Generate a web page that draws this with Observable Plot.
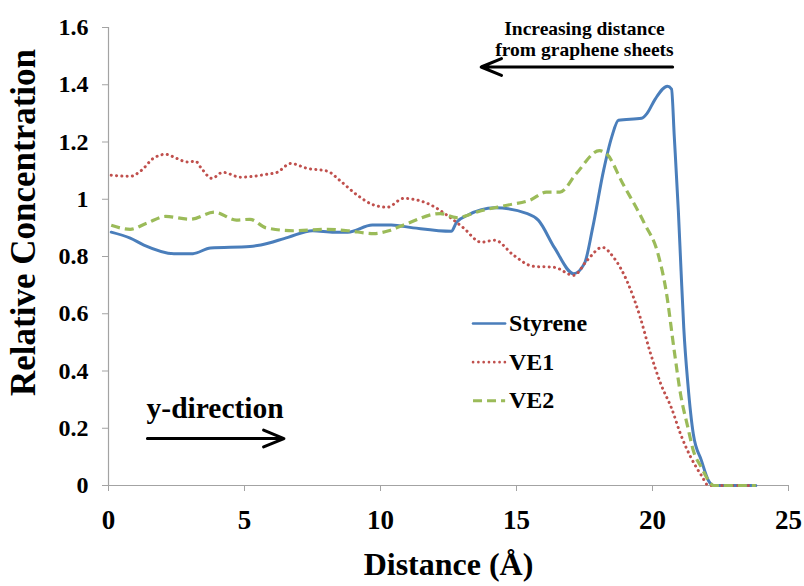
<!DOCTYPE html>
<html>
<head>
<meta charset="utf-8">
<script src="https://cdn.jsdelivr.net/npm/d3@7"></script>
<script src="https://cdn.jsdelivr.net/npm/@observablehq/plot@0.6"></script>
<style>
  html, body { margin: 0; padding: 0; background: #fff; }
  #chart svg { display: block; }
</style>
</head>
<body>
<div id="chart"></div>
<script>
// Concentration profiles relative to bulk, against distance (Å)
const styreneX = [0.1, 0.8, 1.3, 2.4, 3.1, 3.75, 5.2, 5.6, 6.6, 7.5, 8.3, 8.8, 9.7, 10.4, 11.2, 12.6, 12.8, 13.2, 14.2, 15.4, 15.8, 16.4, 17.1, 17.5, 17.8, 18.2, 18.5, 18.75, 19.6, 19.8, 20.1, 20.55, 20.7, 20.8, 20.95, 21.05, 21.15, 21.3, 21.5, 21.8, 22.06, 22.25, 23.8];
const styreneY = [0.885, 0.864, 0.84, 0.81, 0.81, 0.83, 0.835, 0.84, 0.867, 0.89, 0.885, 0.885, 0.91, 0.91, 0.90, 0.888, 0.92, 0.944, 0.97, 0.95, 0.927, 0.83, 0.74, 0.776, 0.90, 1.10, 1.217, 1.276, 1.283, 1.30, 1.35, 1.395, 1.385, 1.22, 0.96, 0.75, 0.55, 0.356, 0.18, 0.087, 0.017, 0, 0];

const ve1X = [0.1, 0.8, 1.2, 1.65, 2.1, 2.5, 2.9, 3.2, 3.4, 3.8, 4.2, 4.85, 5.8, 6.2, 6.7, 7.3, 8.05, 8.5, 9.15, 9.75, 10.25, 10.85, 11.85, 12.45, 13.05, 13.7, 14.2, 14.9, 15.6, 16.4, 17.1, 17.6, 18.15, 18.57, 19.1, 19.55, 19.9, 20.3, 20.7, 21.03, 21.4, 21.8, 22.06, 23.8];
const ve1Y = [1.084, 1.08, 1.10, 1.143, 1.157, 1.143, 1.13, 1.133, 1.11, 1.073, 1.094, 1.077, 1.087, 1.094, 1.125, 1.108, 1.098, 1.066, 1.014, 0.98, 0.972, 1.003, 0.98, 0.944, 0.90, 0.85, 0.857, 0.804, 0.766, 0.762, 0.734, 0.787, 0.832, 0.797, 0.706, 0.587, 0.47, 0.356, 0.27, 0.18, 0.1, 0.035, 0, 0];

const ve2X = [0.1, 0.8, 1.4, 2.1, 3.0, 3.9, 4.7, 5.2, 5.8, 6.8, 8.05, 8.8, 9.75, 10.3, 10.85, 12.2, 12.8, 13.7, 14.7, 15.5, 16.1, 16.6, 17.2, 18.05, 18.3, 18.9, 19.7, 20.2, 20.5, 20.8, 21.03, 21.3, 21.5, 21.8, 22.06, 22.25, 23.8];
const ve2Y = [0.909, 0.895, 0.916, 0.94, 0.93, 0.955, 0.927, 0.93, 0.90, 0.89, 0.895, 0.89, 0.88, 0.89, 0.91, 0.95, 0.936, 0.96, 0.98, 0.997, 1.025, 1.025, 1.09, 1.17, 1.16, 1.056, 0.916, 0.81, 0.68, 0.47, 0.32, 0.203, 0.122, 0.063, 0.017, 0, 0];

const seriesNames = ["Styrene", "VE1", "VE2"];
const xTicks = [0, 5, 10, 15, 20, 25];
const yTicks = [0, 0.2, 0.4, 0.6, 0.8, 1, 1.2, 1.4, 1.6];

const xTitle = "Distance (Å)";
const yTitle = "Relative Concentration";
const noteLines = ["Increasing distance", "from graphene sheets"];
const directionLabel = "y-direction";

// one table per series, built from the arrays above
const toRows = (name, xs, ys) => xs.map((x, i) => ({series: name, x, y: ys[i]}));
const styrene = toRows(seriesNames[0], styreneX, styreneY);
const ve1 = toRows(seriesNames[1], ve1X, ve1Y);
const ve2 = toRows(seriesNames[2], ve2X, ve2Y);

const serif = "Liberation Serif";
const axisGrey = "#a3a3a3";
const styles = {
  Styrene: {stroke: "#4a7ebb", strokeWidth: 3, strokeDasharray: null, strokeLinecap: "round"},
  VE1: {stroke: "#c0504d", strokeWidth: 3, strokeDasharray: "0.1,5.2", strokeLinecap: "round"},
  VE2: {stroke: "#9bbb59", strokeWidth: 3.2, strokeDasharray: "9,5", strokeLinecap: "butt"}
};

// legend rows (sample line + name)
const legend = seriesNames.map((name, i) => ({name, y: 0.566 - i * 0.135}));

const bold = {fontWeight: "bold", fontFamily: serif, fill: "#000"};
const arrowStyle = {stroke: "#000", strokeWidth: 3, headLength: 11, headAngle: 45};

const chart = Plot.plot({
  width: 804,
  height: 586,
  marginLeft: 108,
  marginRight: 16,
  marginTop: 27,
  marginBottom: 101,
  style: {fontFamily: serif, background: "#fff", color: "#000"},
  x: {domain: [0, 25]},
  y: {domain: [0, 1.6]},
  marks: [
    Plot.ruleY([0], {stroke: axisGrey, strokeWidth: 1.2}),
    Plot.ruleX([0], {stroke: axisGrey, strokeWidth: 1.2}),
    Plot.axisX({ticks: xTicks, tickSize: 6, tickPadding: 18, stroke: axisGrey, ...bold,
      fontSize: 27, label: null, tickFormat: d => String(d)}),
    Plot.axisY({ticks: yTicks, tickSize: 6, tickPadding: 14, stroke: axisGrey, ...bold,
      fontSize: 24, label: null, tickFormat: d => String(+d.toFixed(1))}),
    Plot.text([xTitle], {frameAnchor: "bottom", dy: 89, text: d => d, fontSize: 32,
      lineAnchor: "bottom", ...bold}),
    Plot.text([yTitle], {frameAnchor: "left", dx: -74, dy: -34, rotate: -90, text: d => d, fontSize: 35,
      textAnchor: "middle", lineAnchor: "bottom", ...bold}),

    Plot.line(styrene, {x: "x", y: "y", curve: "monotone-x", ...styles.Styrene}),
    Plot.line(ve1, {x: "x", y: "y", curve: "monotone-x", ...styles.VE1}),
    Plot.line(ve2, {x: "x", y: "y", curve: "monotone-x", ...styles.VE2}),

    // legend
    ...legend.map(d => Plot.ruleY([d.y], {x1: 13.42, x2: 14.6, ...styles[d.name], strokeWidth: styles[d.name].strokeWidth - 0.4})),
    Plot.text(legend, {x: 14.72, y: "y", text: "name", textAnchor: "start", lineAnchor: "middle",
      fontSize: 24, ...bold}),

    // direction notes
    Plot.text([noteLines.join("\n")], {x: 17.5, y: 1.5, text: d => d, lineAnchor: "bottom",
      fontSize: 19.5, lineHeight: 1.08, ...bold}),
    Plot.arrow([{x1: 20.74, x2: 13.7, y: 1.462}], {x1: "x1", x2: "x2", y1: "y", y2: "y", ...arrowStyle}),
    Plot.text([directionLabel], {x: 1.4, y: 0.236, text: d => d, textAnchor: "start",
      lineAnchor: "bottom", fontSize: 29.5, ...bold}),
    Plot.arrow([{x1: 1.43, x2: 6.45, y: 0.164}], {x1: "x1", x2: "x2", y1: "y", y2: "y", ...arrowStyle})
  ]
});

document.getElementById("chart").appendChild(chart);
</script>
</body>
</html>
